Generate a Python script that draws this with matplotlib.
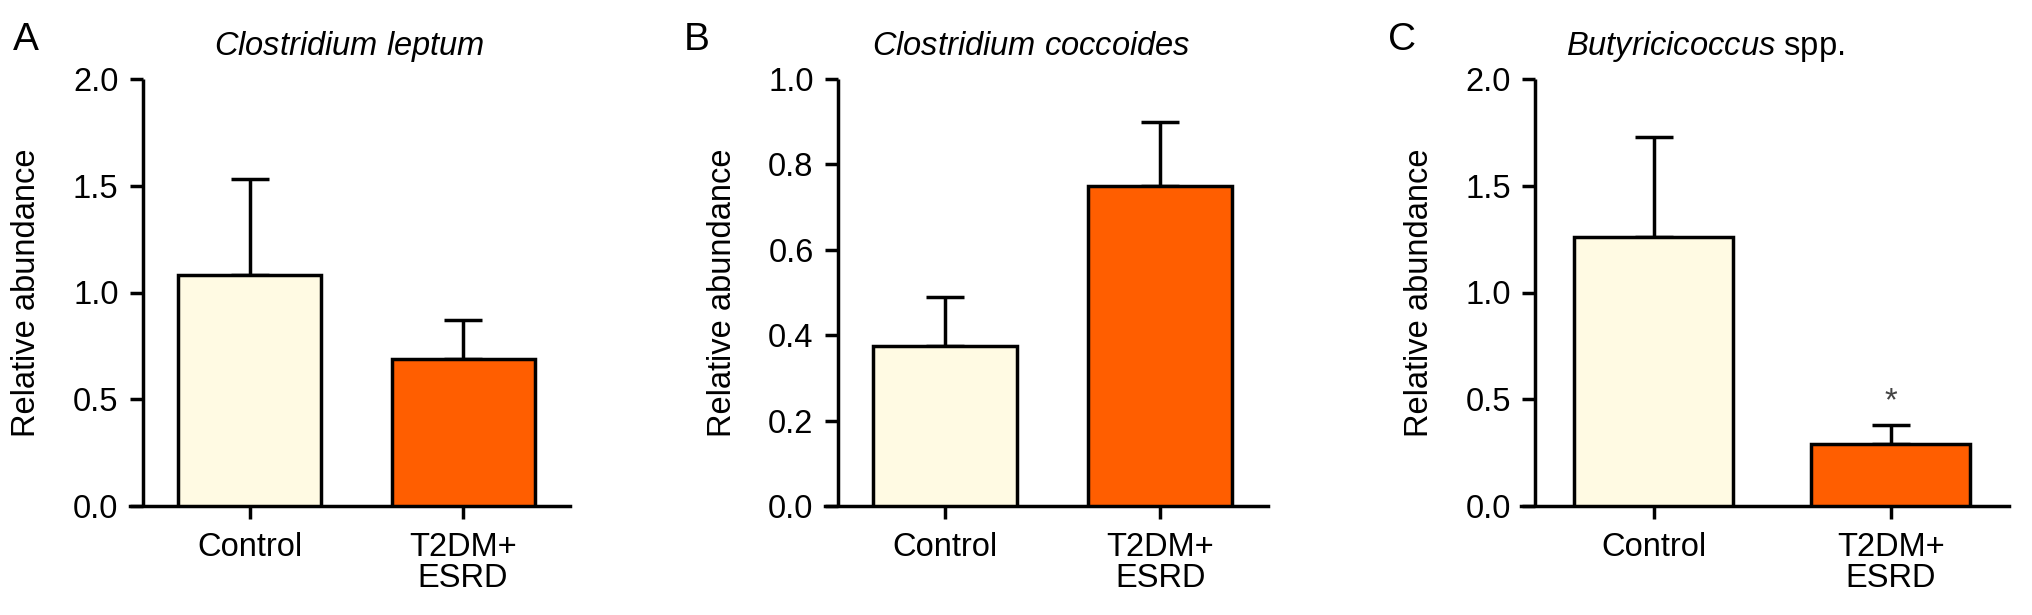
import matplotlib
matplotlib.use('Agg')
import numpy as np
import matplotlib.pyplot as plt

plt.rcParams['font.family'] = ['Liberation Sans', 'DejaVu Sans']
plt.rcParams['mathtext.fontset'] = 'custom'
plt.rcParams['mathtext.rm'] = 'Liberation Sans'
plt.rcParams['mathtext.it'] = 'Liberation Sans:italic'

groups = ['Control', 'T2DM+\nESRD']
panel_letters = ['A', 'B', 'C']
titles = [r'$\mathit{Clostridium\ leptum}$',
          r'$\mathit{Clostridium\ coccoides}$',
          r'$\mathit{Butyricicoccus}$ spp.']

means_a = [1.08, 0.69]
sem_a = [0.45, 0.18]
means_b = [0.375, 0.75]
sem_b = [0.115, 0.15]
means_c = [1.26, 0.29]
sem_c = [0.47, 0.09]

yticks_a = [0.0, 0.5, 1.0, 1.5, 2.0]
yticks_b = [0.0, 0.2, 0.4, 0.6, 0.8, 1.0]
yticks_c = [0.0, 0.5, 1.0, 1.5, 2.0]

colors = ['#FFFAE3', '#FF5E00']

W, H = 2032, 615
FS = 23.5
LW = 2.5

# axes boxes in pixels: left, px per x unit
boxes = [(130, 213.5), (825, 215), (1521, 237)]
ax_bottom, ax_top = 506, 79
title_x = [349, 1031, 1705]
letter_x = [13, 684, 1388]

panels = [
    (means_a, sem_a, yticks_a),
    (means_b, sem_b, yticks_b),
    (means_c, sem_c, yticks_c),
]

fig = plt.figure(figsize=(W / 100, H / 100), dpi=100)

for i, (means, sems, yticks) in enumerate(panels):
    left, unit = boxes[i]
    width = 2.06 * unit
    ax = fig.add_axes([left / W, 1 - ax_bottom / H,
                       width / W, (ax_bottom - ax_top) / H])
    x = np.arange(len(groups))
    ax.bar(x, means, width=0.67, color=colors, edgecolor='black',
           linewidth=LW, zorder=3)
    ax.errorbar(x, means, yerr=[np.zeros(len(sems)), sems], fmt='none',
                ecolor='black', elinewidth=LW, capsize=14, capthick=LW,
                zorder=2)
    ax.set_xlim(-0.56, 1.5)
    ax.set_ylim(0, yticks[-1])
    ax.set_yticks(yticks)
    ax.set_yticklabels(['%.1f' % t for t in yticks])
    ax.set_xticks(x)
    ax.set_xticklabels(groups, linespacing=1.0)

    for s in ('top', 'right'):
        ax.spines[s].set_visible(False)
    ax.spines['left'].set_position(('data', -0.5))
    ax.spines['left'].set_linewidth(LW)
    ax.spines['bottom'].set_linewidth(LW)
    ax.spines['left'].set_capstyle('butt')
    ax.tick_params(axis='y', length=9.5, width=LW, pad=8, labelsize=FS)
    ax.tick_params(axis='x', length=9.2, width=LW, pad=9.3, labelsize=FS)
    ax.set_ylabel('Relative abundance', fontsize=FS, labelpad=22)

    fig.text(title_x[i] / W, 1 - 55 / H, titles[i], fontsize=FS,
             ha='center', va='baseline')
    fig.text(letter_x[i] / W, 1 - 50 / H, panel_letters[i], fontsize=28,
             ha='left', va='baseline')

    if i == 2:
        ax.text(1, 0.49, '*', fontsize=FS, ha='center', va='center',
                color='#444444')

fig.savefig('out.png', dpi=100)
